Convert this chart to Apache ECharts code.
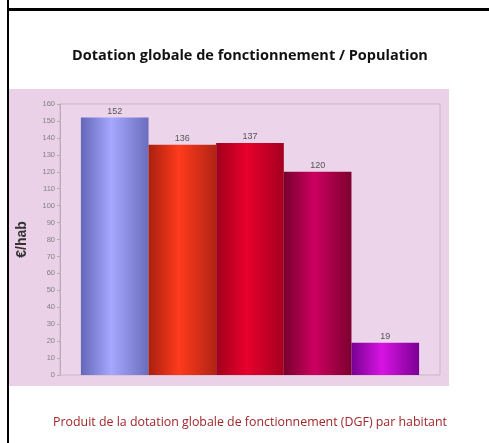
<!DOCTYPE html>
<html>
<head>
<meta charset="utf-8">
<script src="https://cdn.jsdelivr.net/npm/echarts@6/dist/echarts.min.js"></script>
<style>
  html, body { margin: 0; padding: 0; background: #fff; }
  #chart { width: 489px; height: 443px; }
</style>
</head>
<body>
<div id="chart"></div>
<script>
// data
const categories = [''];
const values = [152, 136, 137, 120, 19];
const yTicks = { min: 0, max: 160, interval: 10 };

// edge / centre colours for the cylinder look of each bar
const barColors = [
  ['#6466b8', '#a6a8ff', '#6a6cbc'],
  ['#a82010', '#ff3a1c', '#b02414'],
  ['#a0001c', '#e8002c', '#a40020'],
  ['#78002c', '#cc0060', '#7c002e'],
  ['#760090', '#d814e4', '#7a0094'],
];

const chart = echarts.init(document.getElementById('chart'));

const grad = (c) => new echarts.graphic.LinearGradient(0, 0, 1, 0, [
  { offset: 0, color: c[0] },
  { offset: 0.45, color: c[1] },
  { offset: 1, color: c[2] },
]);

const series = values.map((v, i) => ({
  type: 'bar',
  data: [v],
  barGap: '0%',
  barCategoryGap: '11%',
  itemStyle: { color: grad(barColors[i]) },
  label: {
    show: true,
    position: 'top',
    distance: 2,
    fontSize: 9,
    color: '#555',
    fontFamily: 'Liberation Sans',
  },
}));

const option = {
  animation: false,
  backgroundColor: '#fff',
  title: [
    {
      text: 'Dotation globale de fonctionnement / Population',
      left: 245,
      textAlign: 'center',
      top: 43,
      textStyle: { fontSize: 14.5, fontWeight: 'bold', color: '#111', fontFamily: 'Open Sans' },
    },
    {
      text: 'Produit de la dotation globale de fonctionnement (DGF) par habitant',
      left: 245,
      textAlign: 'center',
      top: 411,
      textStyle: { fontSize: 12.4, fontWeight: 'normal', color: '#a0262a', fontFamily: 'Open Sans' },
    },
  ],
  graphic: [
    // pink panel behind the chart
    { type: 'rect', z: -10, shape: { x: 9, y: 89, width: 440, height: 297 }, style: { fill: '#ead1e7' } },
    // black frame lines
    { type: 'rect', z: 10, shape: { x: 7, y: 0, width: 2, height: 443 }, style: { fill: '#000' } },
    { type: 'rect', z: 10, shape: { x: 7, y: 8, width: 482, height: 3 }, style: { fill: '#000' } },
  ],
  grid: {
    left: 60,
    right: 49,
    top: 104,
    bottom: 68,
    show: true,
    backgroundColor: '#ecd5ea',
    borderColor: '#cbb6c9',
    borderWidth: 1,
  },
  xAxis: {
    type: 'category',
    data: categories,
    axisLine: { show: false },
    axisTick: { show: false },
    axisLabel: { show: false },
  },
  yAxis: {
    type: 'value',
    min: yTicks.min,
    max: yTicks.max,
    interval: yTicks.interval,
    name: '€/hab',
    nameLocation: 'middle',
    nameRotate: 90,
    nameGap: 31,
    nameTextStyle: { fontSize: 14, fontWeight: 'bold', color: '#333', fontFamily: 'Liberation Sans' },
    axisLine: { show: true, lineStyle: { color: '#bba8b9' } },
    axisTick: { show: true, length: 3, lineStyle: { color: '#bba8b9' } },
    axisLabel: { fontSize: 7.5, color: '#808080', margin: 5, fontFamily: 'Liberation Sans' },
    splitLine: { show: false },
  },
  series: series,
};

chart.setOption(option);
</script>
</body>
</html>
